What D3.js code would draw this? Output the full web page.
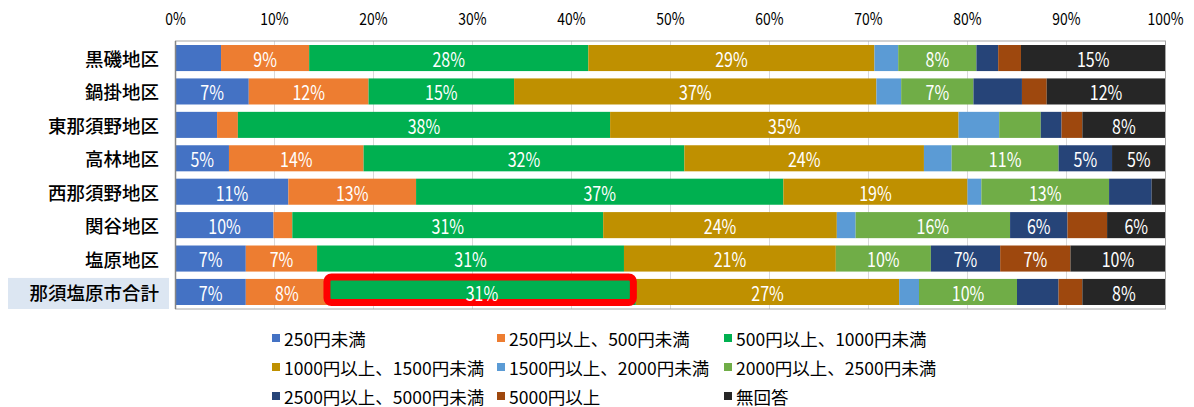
<!DOCTYPE html>
<html>
<head>
<meta charset="utf-8">
<script src="https://cdn.jsdelivr.net/npm/d3@7/dist/d3.min.js"></script>
<style>
  html, body { margin: 0; padding: 0; background: #fff; }
  svg { display: block; font-family: "Noto Sans CJK JP", "Noto Sans", sans-serif; }
</style>
</head>
<body>
<svg id="chart" width="1194" height="407"></svg>
<script>
// 地区
const districts = ["黒磯地区", "鍋掛地区", "東那須野地区", "高林地区", "西那須野地区", "関谷地区", "塩原地区", "那須塩原市合計"];

// 金額区分
const bands = [
  "250円未満", "250円以上、500円未満", "500円以上、1000円未満",
  "1000円以上、1500円未満", "1500円以上、2000円未満", "2000円以上、2500円未満",
  "2500円以上、5000円未満", "5000円以上", "無回答"
];

// 区分ごとの割合（%）、地区順
const under250      = [4.6, 7.4, 4.2, 5.4, 11.4, 9.9, 7.1, 7.1];
const from250to500 = [8.9, 12.1, 2.1, 13.6, 12.9, 1.9, 7.2, 8.3];
const from500to1000 = [28.2, 14.7, 37.6, 32.4, 37.1, 31.4, 31.0, 31.1];
const from1000to1500 = [28.9, 36.6, 35.2, 24.2, 18.6, 23.6, 21.4, 26.6];
const from1500to2000 = [2.4, 2.5, 4.1, 2.8, 1.4, 1.9, 0.0, 2.0];
const from2000to2500 = [7.9, 7.3, 4.2, 10.8, 12.9, 15.6, 9.6, 9.9];
const from2500to5000 = [2.2, 4.9, 2.1, 5.4, 4.3, 5.8, 7.0, 4.2];
const over5000      = [2.3, 2.5, 2.1, 0.0, 0.0, 4.0, 7.1, 2.4];
const noAnswer      = [14.6, 12.0, 8.4, 5.4, 1.4, 5.9, 9.6, 8.4];

const seriesValues = [under250, from250to500, from500to1000, from1000to1500,
  from1500to2000, from2000to2500, from2500to5000, over5000, noAnswer];

const colors = ["#4472C4", "#ED7D31", "#00B050", "#BF9000", "#5B9BD5", "#70AD47", "#264478", "#9E480E", "#262626"];

const tickValues = [0, 10, 20, 30, 40, 50, 60, 70, 80, 90, 100];

// 強調表示する行と区分（市合計の 500円以上、1000円未満）
const highlightRow = "那須塩原市合計";
const highlightBand = "500円以上、1000円未満";

const svg = d3.select("#chart");

const x = d3.scaleLinear().domain([0, 100]).range([175.5, 1165.5]);
const y = d3.scaleBand().domain(districts).range([41, 309]).paddingInner(0.22).paddingOuter(0.12);
const color = d3.scaleOrdinal().domain(bands).range(colors);

// 積み上げ用の表
const rows = districts.map((d, i) => {
  const r = { district: d };
  bands.forEach((b, j) => { r[b] = seriesValues[j][i]; });
  return r;
});
const stacked = d3.stack().keys(bands)(rows);

// 縦の目盛線
svg.append("g")
  .selectAll("line")
  .data(tickValues.slice(1, -1))
  .join("line")
  .attr("x1", d => x(d)).attr("x2", d => x(d))
  .attr("y1", y.range()[0]).attr("y2", y.range()[1])
  .attr("stroke", "#d9d9d9").attr("stroke-width", 1);

// 上部の目盛ラベル
const axisTop = d3.axisTop(x).tickValues(tickValues).tickFormat(d => d + "%").tickSize(0).tickPadding(0);
const gAxis = svg.append("g").attr("transform", "translate(0,25)").call(axisTop);
gAxis.select(".domain").remove();
gAxis.selectAll(".tick")
  .attr("transform", d => `translate(${x(d)},0) scale(0.82,1)`);
gAxis.selectAll("text")
  .attr("font-size", 17)
  .attr("fill", "#000")
  .attr("font-family", "'Noto Sans CJK JP', sans-serif");

// 市合計の背景
svg.append("rect")
  .attr("x", 8).attr("y", y(highlightRow) - 1)
  .attr("width", 161).attr("height", y.bandwidth() + 5)
  .attr("fill", "#DCE6F2");

// 地区ラベル
svg.append("g")
  .selectAll("text")
  .data(districts)
  .join("text")
  .attr("x", 159)
  .attr("y", d => y(d) + y.bandwidth() / 2)
  .attr("text-anchor", "end")
  .attr("dominant-baseline", "central")
  .attr("font-size", 18.5)
  .attr("font-weight", 500)
  .attr("fill", "#000")
  .text(d => d);

// 棒
const layers = svg.append("g")
  .selectAll("g")
  .data(stacked)
  .join("g")
  .attr("fill", d => color(d.key));

layers.selectAll("rect")
  .data(d => d)
  .join("rect")
  .attr("x", d => x(d[0]))
  .attr("y", d => y(d.data.district))
  .attr("width", d => x(d[1]) - x(d[0]))
  .attr("height", y.bandwidth());

// 外枠と左軸
svg.append("rect")
  .attr("x", x(0)).attr("y", y.range()[0])
  .attr("width", x(100) - x(0)).attr("height", y.range()[1] - y.range()[0])
  .attr("fill", "none").attr("stroke", "#a6a6a6").attr("stroke-width", 1);
svg.append("line")
  .attr("x1", x(0)).attr("x2", x(0))
  .attr("y1", y.range()[0]).attr("y2", y.range()[1])
  .attr("stroke", "#868686").attr("stroke-width", 1.5);

// 強調枠
const hiLayer = stacked.find(s => s.key === highlightBand);
const hiSeg = hiLayer.find(d => d.data.district === highlightRow);
const hx0 = x(hiSeg[0]) - 1, hx1 = x(hiSeg[1]) - 2.5;
svg.append("rect")
  .attr("x", hx0).attr("y", y(highlightRow) - 2)
  .attr("width", hx1 - hx0).attr("height", y.bandwidth() - 0.5)
  .attr("rx", 4.5)
  .attr("fill", "none").attr("stroke", "#FF0000").attr("stroke-width", 7);

// 値ラベル（5%以上）
const labels = svg.append("g");
stacked.forEach(layer => {
  layer.forEach(d => {
    const v = d[1] - d[0];
    if (v < 5) return;
    labels.append("text")
      .attr("transform", `translate(${(x(d[0]) + x(d[1])) / 2},${y(d.data.district) + y.bandwidth() / 2}) scale(0.8,1)`)
      .attr("text-anchor", "middle")
      .attr("dominant-baseline", "central")
      .attr("font-size", 20)
      .attr("fill", "#fff")
      .text(Math.round(v) + "%");
  });
});

// 凡例
const legendCols = [272, 497, 724];
const legendRows = [338, 367, 396];
const legend = svg.append("g")
  .selectAll("g")
  .data(bands)
  .join("g")
  .attr("transform", (d, i) => `translate(${legendCols[i % 3]},${legendRows[Math.floor(i / 3)]})`);
legend.append("rect")
  .attr("x", 0).attr("y", -4).attr("width", 8).attr("height", 8)
  .attr("fill", d => color(d));
legend.append("text")
  .attr("x", 12).attr("y", 0)
  .attr("dominant-baseline", "central")
  .attr("font-size", 17.5)
  .attr("fill", "#000")
  .text(d => d);
</script>
</body>
</html>
